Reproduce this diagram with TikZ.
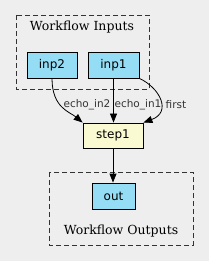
\documentclass[tikz,border=0pt]{standalone}
\usepackage{fontspec}
\usetikzlibrary{arrows.meta}
\newfontfamily\wfserif{DejaVu Serif}
\newfontfamily\wfsans{DejaVu Sans}
\definecolor{wfbg}{HTML}{EEEEEE}
\definecolor{wfio}{HTML}{94DDF4}
\definecolor{wfstep}{HTML}{FAFAD2}
\tikzset{
  iobox/.style={draw, rectangle, fill=wfio, line width=0.8pt, minimum width=50pt, minimum height=26pt, inner sep=0pt, font=\fontsize{12}{14}\wfsans},
  stepbox/.style={draw, rectangle, fill=wfstep, line width=0.8pt, minimum width=60pt, minimum height=25pt, inner sep=0pt, font=\fontsize{12}{14}\wfsans},
  clusterbox/.style={draw=black!80, line width=0.8pt, dash pattern=on 5pt off 3pt},
  clustertitle/.style={font=\fontsize{12.5}{14}\wfserif, inner sep=0pt},
  edgelabel/.style={font=\fontsize{10.5}{12}\wfsans, text=black!80, inner sep=0pt},
  flow/.style={line width=0.8pt, -{Triangle[length=9pt,width=7pt]}}
}
\begin{document}
\begin{tikzpicture}[x=1pt, y=-1pt]
    \fill[wfbg] (0,0) rectangle (209,261);
    \useasboundingbox (0,0) rectangle (209,261);
    % clusters
    \draw[clusterbox] (16,15) rectangle (149,89);
    \node[clustertitle] (intitle) at (82,27) {Workflow Inputs};
    \draw[clusterbox] (49,172) rectangle (193,245);
    \node[clustertitle] (outtitle) at (121,231) {Workflow Outputs};
    % nodes
    \node[iobox] (inp2) at (52,65) {inp2};
    \node[iobox, minimum width=51pt] (inp1) at (113.5,65) {inp1};
    \node[stepbox] (step1) at (113,135.5) {step1};
    \node[iobox, minimum width=43pt] (out) at (113.5,196) {out};
    % edges
    \draw[flow] (inp2.south) .. controls (52,108) and (70,112) .. (step1.north west);
    \draw[flow] (inp1.south) -- (inp1.south |- step1.north);
    \draw[flow] (inp1.south east) .. controls (160,88) and (172,112) .. (step1.north east);
    \draw[flow] (step1.south) -- (step1.south |- out.north);
    % edge labels
    \node[edgelabel] (lbl2) at (87,105) {echo\_in2};
    \node[edgelabel] (lbl1) at (138,105) {echo\_in1};
    \node[edgelabel] (lblf) at (176,105) {first};
\end{tikzpicture}
\end{document}
